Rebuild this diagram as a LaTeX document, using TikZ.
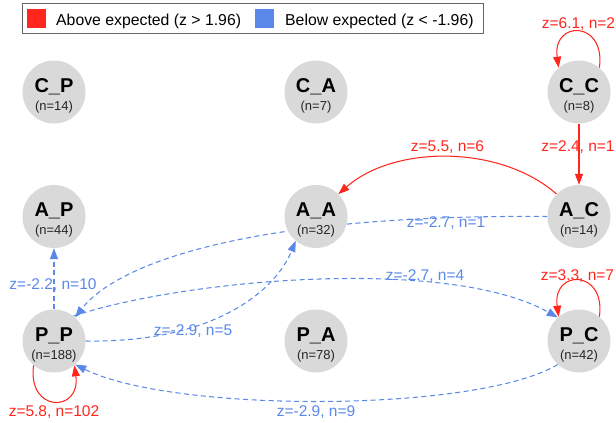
\documentclass[tikz,border=0pt]{standalone}
\usepackage{fontspec}
\setmainfont{Liberation Sans}
\usetikzlibrary{arrows.meta}
\definecolor{upred}{RGB}{255,38,30}
\definecolor{downblue}{RGB}{90,136,232}
\definecolor{nodegray}{RGB}{217,217,217}
\pgfdeclarelayer{edgelayer}
\pgfsetlayers{edgelayer,main}
\begin{document}
\begin{tikzpicture}[x=1pt,y=-1pt,
  state/.style={circle,fill=nodegray,minimum size=63pt,inner sep=0pt},
  ttl/.style={font=\fontsize{20}{20}\selectfont\bfseries,anchor=base,inner sep=0pt},
  sub/.style={font=\fontsize{13}{13}\selectfont,text=black!85,anchor=base,inner sep=0pt},
  lbl/.style={font=\fontsize{15.5}{15.5}\selectfont,anchor=base,inner sep=0pt},
  redlbl/.style={lbl,text=upred},
  bluelbl/.style={lbl,text=downblue},
  legtext/.style={font=\fontsize{15.8}{16}\selectfont,anchor=base west,inner sep=0pt},
  key/.style={minimum size=19pt,inner sep=0pt,anchor=north west},
  uplink/.style={draw=upred,line width=1.05pt,-{Triangle[length=11pt,width=8pt]}},
  downlink/.style={draw=downblue,line width=1.05pt,dash pattern=on 5pt off 3.5pt,-{Triangle[length=11pt,width=8pt]}},
]
\useasboundingbox (0,0) rectangle (616,423);

% legend
\node[draw=black!60,line width=0.8pt,minimum width=461pt,minimum height=30pt,inner sep=0pt,anchor=north west] (legend) at (22,3) {};
\node[key,fill=upred] (redkey) at (27,9) {};
\node[legtext] (redtext) at (56,25) {Above expected (z > 1.96)};
\node[key,fill=downblue] (bluekey) at (255,9) {};
\node[legtext] (bluetext) at (285,25) {Below expected (z < -1.96)};

% states
\foreach \n/\x/\y/\t/\c in {CP/54/92/{C\_P}/14, CA/316/92/{C\_A}/7, CC/579/92/{C\_C}/8,
                            AP/54/216.5/{A\_P}/44, AA/316/216.5/{A\_A}/32, AC/579/216.5/{A\_C}/14,
                            PP/54/341/{P\_P}/188, PA/316/341/{P\_A}/78, PC/579/341/{P\_C}/42}{
  \node[state] (\n) at (\x,\y) {};
  \node[ttl] (\n-t) at (\x,\y) {\t};
  \node[sub] (\n-s) at (\x,\y+18) {(n=\c)};
}

% edges
\begin{pgfonlayer}{edgelayer}
\draw[uplink] (CC.50) .. controls (606,20) and (552,20) .. (CC.130);
\draw[uplink] (CC) -- (AC);
\draw[uplink] (AC.135) .. controls (500.6,144.7) and (394.4,144.7) .. (AA.45);
\draw[uplink] (PC.50) .. controls (606,269) and (552,269) .. (PC.130);
\draw[uplink] (PP.230) .. controls (27,413) and (81,413) .. (PP.310);
\draw[downlink] (PP) -- (AP);
\draw[downlink] (AC.180) .. controls (250,214) and (117,263) .. (PP.48);
\draw[downlink] (PP.52) .. controls (185,279) and (448,256) .. (PC.132);
\draw[downlink] (PP.0) .. controls (215,343) and (276,290) .. (AA.230);
\draw[downlink] (PC.228) .. controls (476,413) and (173,413) .. (PP.312);
\end{pgfonlayer}

% edge labels
\node[redlbl] (l-cc) at (578.5,28.6) {z=6.1, n=2};
\node[redlbl] (l-ccac) at (578,151.8) {z=2.4, n=1};
\node[redlbl] (l-acaa) at (447.5,151) {z=5.5, n=6};
\node[bluelbl] (l-acpp) at (446,227) {z=-2.7, n=1};
\node[bluelbl] (l-ppap) at (53,289) {z=-2.2, n=10};
\node[bluelbl] (l-ppaa) at (193,335) {z=-2.9, n=5};
\node[bluelbl] (l-pppc) at (425,280) {z=-2.7, n=4};
\node[redlbl] (l-pc) at (577.5,280) {z=3.3, n=7};
\node[bluelbl] (l-pcpp) at (316,416.7) {z=-2.9, n=9};
\node[redlbl] (l-pp) at (54,416.7) {z=5.8, n=102};
\end{tikzpicture}
\end{document}
